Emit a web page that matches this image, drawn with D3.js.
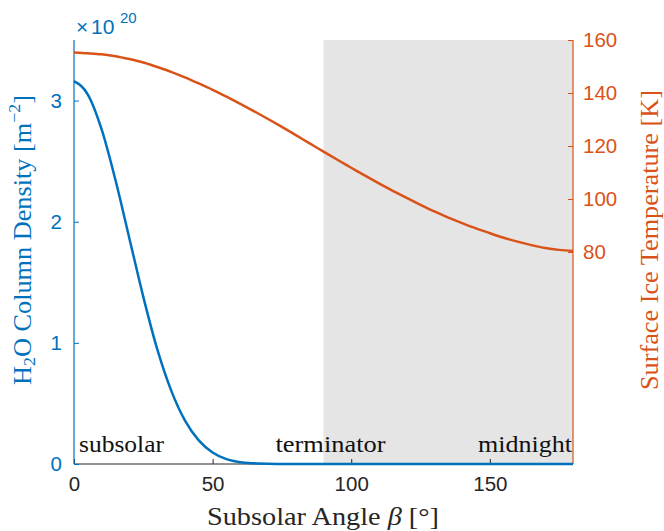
<!DOCTYPE html>
<html>
<head>
<meta charset="utf-8">
<script src="https://cdn.jsdelivr.net/npm/d3@7/dist/d3.min.js"></script>
<style>
  html, body { margin: 0; padding: 0; background: #fff; }
  svg { display: block; }
</style>
</head>
<body>
<svg id="chart" width="664" height="531"></svg>
<script>
// Subsolar angle samples (degrees)
const beta = [0, 5, 10, 15, 20, 25, 30, 35, 40, 45, 50, 55, 60, 65, 70, 75, 80, 85, 90,
              95, 100, 105, 110, 115, 120, 125, 130, 135, 140, 145, 150, 155, 160, 165, 170, 175, 180];
// H2O column density (units of 1e20 m^-2)
const density = [3.16, 3.05, 2.76, 2.34, 1.86, 1.38, 0.95, 0.61, 0.36, 0.195, 0.095, 0.04, 0.015, 0.006, 0.002, 0.0006, 0.0002, 0, 0,
                 0, 0, 0, 0, 0, 0, 0, 0, 0, 0, 0, 0, 0, 0, 0, 0, 0, 0];
// Surface ice temperature (K)
const temperature = [155.3, 155.0, 154.6, 153.9, 152.8, 151.5, 149.8, 148.0, 145.9, 143.6, 141.2, 138.6, 135.9, 133.1, 130.2, 127.2, 124.1, 121.0, 117.9,
                     114.8, 111.8, 108.8, 105.9, 103.1, 100.4, 97.8, 95.3, 93.0, 90.9, 88.9, 87.1, 85.4, 83.9, 82.6, 81.5, 80.8, 80.4];

const xTicks = [0, 50, 100, 150];
const leftTicks = [0, 1, 2, 3];
const rightTicks = [80, 100, 120, 140, 160];
const nightRange = [90, 180];
const regionLabels = ["subsolar", "terminator", "midnight"];

const blue = "#0072BD", orange = "#D95319", axisGray = "#262626";
const plotL = 74, plotR = 573, plotT = 40, plotB = 464;

const svg = d3.select("#chart");
const x = d3.scaleLinear().domain([0, 180]).range([plotL, plotR]);
const yL = d3.scaleLinear().domain([0, 3.5]).range([plotB, plotT]);
const yR = d3.scaleLinear().domain([0, 160]).range([plotB, plotT]);

// night side shading
svg.append("rect")
  .attr("x", x(nightRange[0])).attr("y", plotT)
  .attr("width", x(nightRange[1]) - x(nightRange[0]))
  .attr("height", plotB - plotT)
  .attr("fill", "#e5e5e5");

const sans = "'Liberation Sans', Arial, Helvetica, sans-serif";
const serif = "'Liberation Serif', 'Times New Roman', serif";

// bottom axis
const gx = svg.append("g").attr("transform", `translate(0,${plotB})`)
  .call(d3.axisBottom(x).tickValues(xTicks).tickSize(-5).tickPadding(12).tickFormat(d3.format("d")));
gx.select(".domain").attr("stroke", axisGray).attr("d", `M${plotL},0H${plotR}`);
gx.selectAll(".tick line").attr("stroke", axisGray);
gx.selectAll(".tick text").attr("fill", axisGray).attr("font-family", sans).attr("font-size", 20.5).attr("dy", "0.71em");

// left axis
const gl = svg.append("g").attr("transform", `translate(${plotL},0)`)
  .call(d3.axisLeft(yL).tickValues(leftTicks).tickSize(-5).tickPadding(12).tickFormat(d3.format("d")));
gl.select(".domain").attr("stroke", blue).attr("stroke-width", 1.2).attr("d", `M0,${plotT}V${plotB}`);
gl.selectAll(".tick line").attr("stroke", blue);
gl.selectAll(".tick text").attr("fill", blue).attr("font-family", sans).attr("font-size", 20.5);

// right axis
const gr = svg.append("g").attr("transform", `translate(${plotR},0)`)
  .call(d3.axisRight(yR).tickValues(rightTicks).tickSize(-5).tickPadding(10).tickFormat(d3.format("d")));
gr.select(".domain").attr("stroke", orange).attr("stroke-width", 1.2).attr("d", `M0,${plotT}V${plotB}`);
gr.selectAll(".tick line").attr("stroke", orange);
gr.selectAll(".tick text").attr("fill", orange).attr("font-family", sans).attr("font-size", 20.5);

// temperature curve
svg.append("path")
  .datum(beta.map((b, i) => [b, temperature[i]]))
  .attr("fill", "none").attr("stroke", orange).attr("stroke-width", 2.5)
  .attr("d", d3.line().x(d => x(d[0])).y(d => yR(d[1])).curve(d3.curveMonotoneX));

// region annotations
const annoX = [x(0) + 5, x(90) - 48, x(180) - 1];
const annoW = [85, 110, 94];
const annoAnchor = ["start", "start", "end"];
regionLabels.forEach((t, i) => {
  svg.append("text")
    .attr("x", annoAnchor[i] === "end" ? annoX[i] - annoW[i] : annoX[i])
    .attr("y", 452)
    .attr("font-family", serif).attr("font-size", 23)
    .attr("fill", "#111")
    .attr("textLength", annoW[i]).attr("lengthAdjust", "spacingAndGlyphs")
    .text(t);
});

// density curve
svg.append("path")
  .datum(beta.map((b, i) => [b, density[i]]))
  .attr("fill", "none").attr("stroke", blue).attr("stroke-width", 2.5)
  .attr("d", d3.line().x(d => x(d[0])).y(d => yL(d[1])).curve(d3.curveMonotoneX));

// exponent marker for the left axis
svg.append("text").attr("x", 76).attr("y", 34).attr("fill", blue)
  .attr("font-family", sans).attr("font-size", 21).text("×");
svg.append("text").attr("x", 91).attr("y", 34).attr("fill", blue)
  .attr("font-family", sans).attr("font-size", 21).text("10");
svg.append("text").attr("x", 120).attr("y", 23).attr("fill", blue)
  .attr("font-family", sans).attr("font-size", 15).text("20");

// x label
const xl = svg.append("text").attr("x", 207).attr("y", 525)
  .attr("font-family", serif).attr("font-size", 25).attr("fill", axisGray)
  .attr("textLength", 232).attr("lengthAdjust", "spacingAndGlyphs");
xl.append("tspan").text("Subsolar Angle ");
xl.append("tspan").attr("font-style", "italic").text("β");
xl.append("tspan").text(" [°]");

// left y label
const yl = svg.append("text")
  .attr("transform", `translate(31,240) rotate(-90)`)
  .attr("text-anchor", "middle")
  .attr("font-family", serif).attr("font-size", 25).attr("fill", blue)
  .attr("textLength", 290).attr("lengthAdjust", "spacingAndGlyphs");
yl.append("tspan").text("H");
yl.append("tspan").attr("font-size", 17).attr("dy", 4).text("2");
yl.append("tspan").attr("dy", -4).text("O Column Density [m");
yl.append("tspan").attr("font-size", 17).attr("dy", -11).text("−2");
yl.append("tspan").attr("dy", 11).text("]");

// right y label
svg.append("text")
  .attr("transform", `translate(658,240) rotate(-90)`)
  .attr("text-anchor", "middle")
  .attr("font-family", serif).attr("font-size", 25).attr("fill", orange)
  .attr("textLength", 300).attr("lengthAdjust", "spacingAndGlyphs")
  .text("Surface Ice Temperature [K]");
</script>
</body>
</html>
